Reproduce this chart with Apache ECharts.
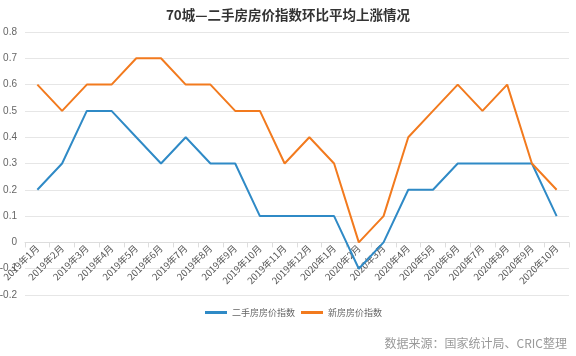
<!DOCTYPE html>
<html><head><meta charset="utf-8">
<script src="https://cdn.jsdelivr.net/npm/echarts@6/dist/echarts.min.js"></script>
<style>html,body{margin:0;padding:0;background:#fff}#c{width:576px;height:356px}</style>
</head><body><div id="c"></div>
<script>
const categories = ['2019年1月','2019年2月','2019年3月','2019年4月','2019年5月','2019年6月','2019年7月','2019年8月','2019年9月','2019年10月','2019年11月','2019年12月','2020年1月','2020年2月','2020年3月','2020年4月','2020年5月','2020年6月','2020年7月','2020年8月','2020年9月','2020年10月'];
const secondHand = [0.2,0.3,0.5,0.5,0.4,0.3,0.4,0.3,0.3,0.1,0.1,0.1,0.1,-0.1,0,0.2,0.2,0.3,0.3,0.3,0.3,0.1];
const newHouse = [0.6,0.5,0.6,0.6,0.7,0.7,0.6,0.6,0.5,0.5,0.3,0.4,0.3,0,0.1,0.4,0.5,0.6,0.5,0.6,0.3,0.2];
const yTicks = [-0.2,-0.1,0,0.1,0.2,0.3,0.4,0.5,0.6,0.7,0.8];
const chart = echarts.init(document.getElementById('c'));
const gridTop = 32, gridBottom = 61, H = 356;
const plotH = H - gridTop - gridBottom;
const yMin = yTicks[0], yMax = yTicks[yTicks.length-1];
const zeroOffset = plotH * (0 - yMin) / (yMax - yMin);
chart.setOption({
  animation:false,
  title:[{text:'70城—二手房房价指数环比平均上涨情况',left:'center',top:3,textStyle:{fontSize:13.5,fontWeight:'bold',color:'#333',fontFamily:'Noto Sans CJK SC'}},
         {text:'数据来源：国家统计局、CRIC整理',right:4,bottom:2,textStyle:{fontSize:12,fontWeight:'normal',color:'#999',fontFamily:'Noto Sans CJK SC'}}],
  legend:{bottom:34,left:200,itemWidth:22,itemHeight:3,itemGap:6,icon:'rect',
    textStyle:{fontSize:9,color:'#666',fontFamily:'Noto Sans CJK SC'},
    data:['二手房房价指数','新房房价指数']},
  grid:{left:25,right:7,top:gridTop,bottom:gridBottom,containLabel:false,outerBoundsMode:'none'},
  xAxis:{type:'category',data:categories,boundaryGap:true,offset:-zeroOffset,
    axisLine:{onZero:false,lineStyle:{color:'#ddd'}},
    axisTick:{show:true,lineStyle:{color:'#ddd'}},
    axisLabel:{rotate:45,fontSize:9.5,color:'#555',interval:0,margin:4,fontFamily:'Noto Sans CJK SC'}},
  yAxis:{type:'value',min:yMin,max:yMax,interval:0.1,
    axisLine:{show:false},axisTick:{show:false},
    axisLabel:{fontSize:10,color:'#666',margin:8,formatter:v=>{const r=Math.round(v*10)/10;return r===0?'0':String(r);}},
    splitLine:{lineStyle:{color:'#e6e6e6'}}},
  series:[
    {name:'二手房房价指数',type:'line',data:secondHand,showSymbol:false,symbol:'none',lineStyle:{width:2,color:'#2f8ac6'},itemStyle:{color:'#2f8ac6'}},
    {name:'新房房价指数',type:'line',data:newHouse,showSymbol:false,symbol:'none',lineStyle:{width:2,color:'#f27a1e'},itemStyle:{color:'#f27a1e'}}
  ]
});
</script></body></html>
